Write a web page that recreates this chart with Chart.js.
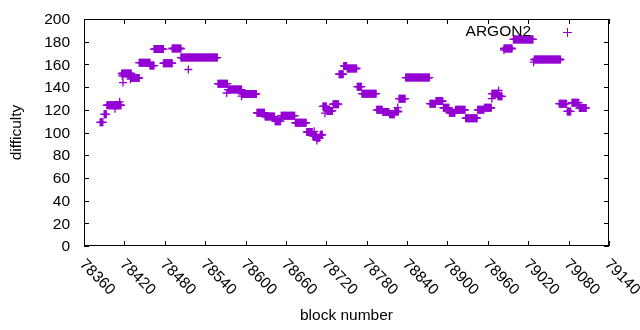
<!DOCTYPE html>
<html>
<head>
<meta charset="utf-8">
<script src="https://cdn.jsdelivr.net/npm/chart.js@4/dist/chart.umd.min.js"></script>
<style>
  html, body { margin: 0; padding: 0; background: #fff; }
  #wrap { width: 640px; height: 330px; }
</style>
</head>
<body>
<div id="wrap"><canvas id="diffChart"></canvas></div>
<script>
// difficulty stays flat over runs of blocks: start block, end block, value
const runStart = [78384, 78390, 78394, 78416, 78430, 78442, 78458, 78464, 78478, 78491,
                  78504, 78559, 78574, 78595, 78617, 78629, 78644, 78653, 78674, 78691,
                  78700, 78706, 78711, 78715, 78721, 78730, 78739, 78746, 78751, 78766,
                  78773, 78795, 78804, 78814, 78822, 78828, 78838, 78874, 78883, 78894,
                  78903, 78912, 78927, 78945, 78955, 78966, 78975, 78984, 78998, 79029,
                  79066, 79078, 79085, 79096];
const runEnd   = [78388, 78393, 78415, 78430, 78442, 78458, 78464, 78478, 78491, 78504,
                  78558, 78573, 78594, 78616, 78628, 78643, 78652, 78673, 78690, 78699,
                  78705, 78710, 78714, 78720, 78729, 78738, 78745, 78750, 78765, 78772,
                  78794, 78803, 78813, 78821, 78827, 78837, 78873, 78882, 78893, 78902,
                  78911, 78926, 78944, 78954, 78965, 78974, 78981, 78996, 79027, 79068,
                  79077, 79083, 79095, 79106];
const runValue = [109, 116, 124, 152, 148, 161.5, 159, 173.5, 161, 174,
                  166, 143, 137.8, 134, 117.4, 114, 110, 114.8, 108.6, 100.5,
                  97, 95.3, 98, 123, 119, 125, 151.3, 158.7, 156.4, 140.4,
                  134.2, 120, 118, 116, 118.5, 129.8, 148.4, 125.4, 127.7, 121.8,
                  117.4, 120, 112.6, 120, 121.8, 134.2, 131.9, 174, 182, 164.3,
                  125.4, 118.6, 126.3, 121.5];

// single blocks off their run
const oddBlock = [78406, 78413, 78417, 78418, 78429, 78515, 78572, 78594, 78702, 78706,
                  78718, 78826, 78966, 78976, 78984, 79028];
const oddValue = [121, 127, 150, 144, 147, 155.5, 134.8, 132, 101, 93,
                  117, 122, 129.8, 137, 172.6, 162];

const xTicks = [78360, 78420, 78480, 78540, 78600, 78660, 78720, 78780, 78840, 78900, 78960, 79020, 79080, 79140];
const yTicks = [0, 20, 40, 60, 80, 100, 120, 140, 160, 180, 200];

const seriesName = "ARGON2";
const purple = "#9400D3";
const font = "15.5px 'Liberation Sans', Arial, sans-serif";

const points = [];
runStart.forEach((s, i) => {
    for (let b = s; b <= runEnd[i]; b++) points.push({ x: b, y: runValue[i] });
});
oddBlock.forEach((b, i) => points.push({ x: b, y: oddValue[i] }));

// gnuplot style frame: inward ticks on every side, rotated x labels, key top right
const gnuFrame = {
    id: "gnuFrame",
    afterDraw(chart) {
        const ctx = chart.ctx;
        const a = chart.chartArea;
        const xs = chart.scales.x, ys = chart.scales.y;
        ctx.save();
        ctx.strokeStyle = "#000";
        ctx.lineWidth = 1;
        ctx.strokeRect(a.left + 0.5, a.top + 0.5, a.right - a.left - 1, a.bottom - a.top - 1);

        ctx.beginPath();
        xTicks.forEach(v => {
            const x = Math.round(xs.getPixelForValue(v)) + 0.5;
            ctx.moveTo(x, a.bottom); ctx.lineTo(x, a.bottom - 5);
            ctx.moveTo(x, a.top); ctx.lineTo(x, a.top + 5);
        });
        yTicks.forEach(v => {
            const y = Math.round(ys.getPixelForValue(v)) + 0.5;
            ctx.moveTo(a.left, y); ctx.lineTo(a.left + 5, y);
            ctx.moveTo(a.right, y); ctx.lineTo(a.right - 5, y);
        });
        ctx.stroke();

        ctx.fillStyle = "#000";
        ctx.font = font;
        ctx.textAlign = "right";
        ctx.textBaseline = "middle";
        yTicks.forEach(v => ctx.fillText(String(v), a.left - 14, ys.getPixelForValue(v) + 1));

        ctx.textAlign = "left";
        xTicks.forEach(v => {
            ctx.save();
            ctx.translate(xs.getPixelForValue(v) - 2, a.bottom + 16);
            ctx.rotate(Math.PI / 4);
            ctx.fillText(String(v), 0, 0);
            ctx.restore();
        });

        ctx.textAlign = "center";
        ctx.fillText("block number", (a.left + a.right) / 2, 316);
        ctx.save();
        ctx.translate(17, (a.top + a.bottom) / 2);
        ctx.rotate(-Math.PI / 2);
        ctx.fillText("difficulty", 0, 0);
        ctx.restore();

        // key
        ctx.textAlign = "right";
        ctx.fillText(seriesName, 531, 32);
        ctx.strokeStyle = purple;
        ctx.beginPath();
        ctx.moveTo(563, 32.5); ctx.lineTo(572, 32.5);
        ctx.moveTo(567.5, 28); ctx.lineTo(567.5, 37);
        ctx.stroke();
        ctx.restore();
    }
};

new Chart(document.getElementById("diffChart"), {
    type: "scatter",
    data: {
        datasets: [{
            label: seriesName,
            data: points,
            pointStyle: "cross",
            pointRadius: 4,
            borderColor: purple,
            backgroundColor: purple,
            borderWidth: 1.3
        }]
    },
    options: {
        responsive: true,
        maintainAspectRatio: false,
        animation: false,
        layout: {
            padding: { left: 84, top: 19, right: 31, bottom: 84 }
        },
        scales: {
            x: { type: "linear", min: 78360, max: 79140, display: false },
            y: { min: 0, max: 200, display: false }
        },
        plugins: {
            legend: { display: false },
            tooltip: { enabled: false }
        }
    },
    plugins: [gnuFrame]
});
</script>
</body>
</html>
